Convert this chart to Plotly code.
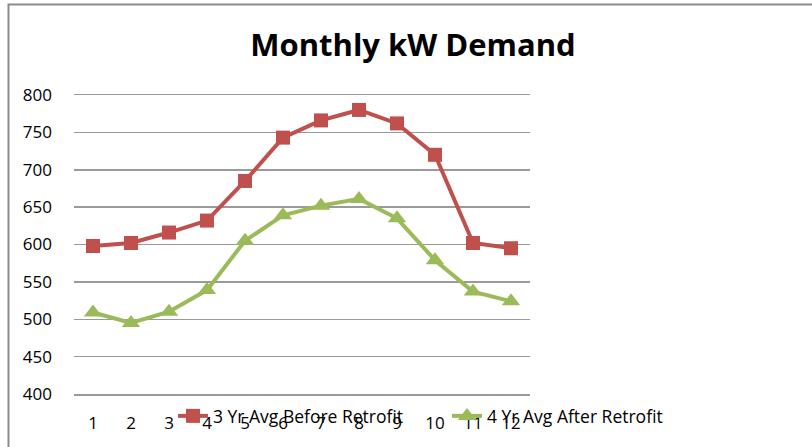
import plotly.graph_objects as go

months = [str(i) for i in range(1, 13)]
before_retrofit = [598, 602, 616, 632, 685, 743, 766, 780, 762, 720, 602, 595]
after_retrofit = [509, 495, 510, 539, 605, 639, 652, 661, 635, 579, 537, 524]
y_ticks = [400, 450, 500, 550, 600, 650, 700, 750, 800]

RED = "#C0504D"
GREEN = "#9BBB59"
GRID = "#9a9a9a"
FONT = "Open Sans"

fig = go.Figure()
fig.add_trace(go.Scatter(
    x=months, y=before_retrofit, mode="lines+markers",
    name="3 Yr Avg Before Retrofit", legend="legend",
    line=dict(color=RED, width=4),
    marker=dict(symbol="square", size=14, color=RED),
))
fig.add_trace(go.Scatter(
    x=months, y=after_retrofit, mode="lines+markers",
    name="4 Yr Avg After Retrofit", legend="legend2",
    line=dict(color=GREEN, width=4),
    marker=dict(symbol="triangle-up", size=16, color=GREEN),
))

L, R, T, B = 74, 282, 95, 53
W, H = 812, 447
pw, ph = W - L - R, H - T - B

def px_x(x):
    return (x - L) / pw

def px_y(y):
    return (H - B - y) / ph

legend_common = dict(orientation="h", xanchor="left", yanchor="middle",
                     y=px_y(416),
                     font=dict(family=FONT, size=17.5, color="black"),
                     bgcolor="rgba(0,0,0,0)", itemclick=False,
                     itemdoubleclick=False)

fig.update_layout(
    width=W, height=H,
    margin=dict(l=L, r=R, t=T, b=B, autoexpand=False),
    paper_bgcolor="white", plot_bgcolor="white",
    hovermode=False,
    font=dict(family=FONT, size=17, color="black"),
    title=dict(text="<b>Monthly kW Demand</b>", xref="container",
               x=413 / W, xanchor="center",
               yref="container", y=1 - 45 / H, yanchor="middle",
               font=dict(family=FONT, size=31, color="black")),
    showlegend=True,
    legend=dict(x=px_x(173), **legend_common),
    legend2=dict(x=px_x(447), **legend_common),
    xaxis=dict(type="category", range=[-0.5, 11.5], showgrid=False,
               zeroline=False, showline=True, mirror=True,
               linecolor=GRID, linewidth=1.5, ticks="",
               tickfont=dict(size=17), ticklabelstandoff=13,
               fixedrange=True, automargin=False),
    yaxis=dict(range=[400, 800], tickvals=y_ticks, showgrid=True,
               gridcolor=GRID, gridwidth=1.5, zeroline=False,
               showline=False, ticks="", tickfont=dict(size=17),
               ticklabelstandoff=21, fixedrange=True, automargin=False),
    shapes=[dict(type="rect", xref="paper", yref="paper",
                 x0=px_x(8.5), x1=px_x(830), y0=px_y(460), y1=px_y(4.5),
                 line=dict(color="#8c8c8c", width=2), layer="below")],
)

fig.write_html("out.html",
               config={"displayModeBar": False, "staticPlot": True},
               post_script="document.body.style.margin='0';")
